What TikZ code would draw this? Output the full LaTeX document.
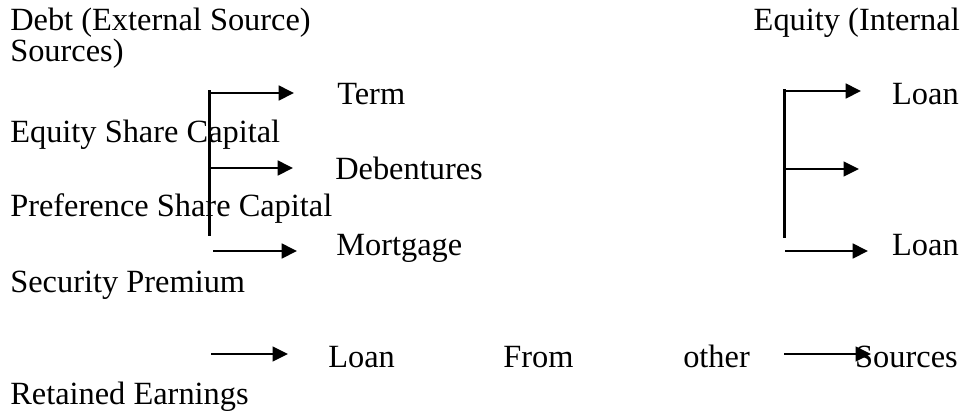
\documentclass[tikz,border=0pt]{standalone}
\usepackage{fontspec}
\setmainfont{Liberation Serif}
\usetikzlibrary{arrows.meta}
\begin{document}
\begin{tikzpicture}[x=0.75pt,y=-0.75pt,
  lbl/.style={inner sep=0pt,anchor=base west,font=\fontsize{24.3}{28}\selectfont},
  lblr/.style={lbl,anchor=base east},
  brk/.style={line width=2.25pt},
  arr/.style={line width=2pt,-{Triangle[length=11.5pt,width=11pt]}},
  arrthin/.style={arr,line width=1.6pt}]
\useasboundingbox (0,0) rectangle (967,415);
% texts
\node[lbl] (debt) at (10,30) {Debt (External Source)};
\node[lbl] (src1) at (10,61) {Sources)};
\node[lbl] (term) at (337,104) {Term};
\node[lbl] (esc) at (10,142) {Equity Share Capital};
\node[lbl] (deb) at (335,179) {Debentures};
\node[lbl] (psc) at (10,216) {Preference Share Capital};
\node[lbl] (mort) at (336,255) {Mortgage};
\node[lbl] (sp) at (10,292) {Security Premium};
\node[lbl] (loanb) at (328,367) {Loan};
\node[lbl] (from) at (503,367) {From};
\node[lbl] (other) at (683,367) {other};
\node[lblr] (sources) at (958,367) {Sources};
\node[lbl] (re) at (10,404) {Retained Earnings};
\node[lblr] (eqint) at (960,30) {Equity (Internal};
\node[lblr] (loan1) at (959,104) {Loan};
\node[lblr] (loan2) at (959,255) {Loan};
% coordinates
\coordinate (lt) at (209,90); \coordinate (lb) at (209,236);
\coordinate (a1s) at (209,93); \coordinate (a1e) at (294,93);
\coordinate (a2s) at (209,168); \coordinate (a2e) at (293,168);
\coordinate (a3s) at (213,251); \coordinate (a3e) at (297,251);
\coordinate (a4s) at (211,354); \coordinate (a4e) at (288,354);
\coordinate (rt) at (784,89); \coordinate (rb) at (784,238);
\coordinate (b1s) at (784,91); \coordinate (b1e) at (861,91);
\coordinate (b2s) at (783,169); \coordinate (b2e) at (859,169);
\coordinate (b3s) at (785,251); \coordinate (b3e) at (868,251);
\coordinate (b4s) at (784,354); \coordinate (b4e) at (871,354);
% connectors
\draw[brk] (lt) -- (lb);
\draw[arr] (a1s) -- (a1e);
\draw[arr] (a2s) -- (a2e);
\draw[arr] (a3s) -- (a3e);
\draw[arrthin] (a4s) -- (a4e);
\draw[brk] (rt) -- (rb);
\draw[arr] (b1s) -- (b1e);
\draw[arrthin] (b2s) -- (b2e);
\draw[arr] (b3s) -- (b3e);
\draw[arrthin] (b4s) -- (b4e);
\end{tikzpicture}
\end{document}
